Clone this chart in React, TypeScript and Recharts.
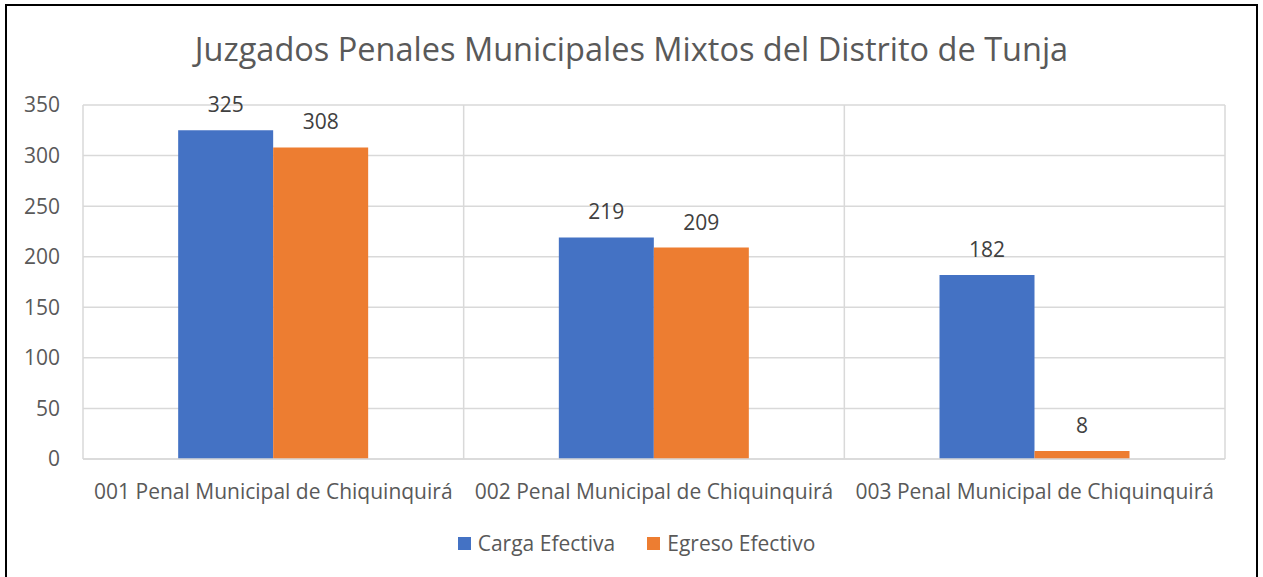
import React from "react";
import {
  BarChart,
  Bar,
  XAxis,
  YAxis,
  CartesianGrid,
  LabelList,
} from "recharts";

const categories = [
  "001 Penal Municipal de Chiquinquirá",
  "002 Penal Municipal de Chiquinquirá",
  "003 Penal Municipal de Chiquinquirá",
];
const cargaEfectiva = [325, 219, 182];
const egresoEfectivo = [308, 209, 8];
const yTicks = [0, 50, 100, 150, 200, 250, 300, 350];
const seriesNames = ["Carga Efectiva", "Egreso Efectivo"];
const seriesColors = ["#4472c4", "#ed7d31"];

const data = categories.map((name, i) => ({
  name,
  carga: cargaEfectiva[i],
  egreso: egresoEfectivo[i],
}));

const FONT = "'Open Sans', sans-serif";
const TEXT = "#595959";
const FS = 21;

export default function App() {
  return (
    <div style={{ position: "relative", width: 1263, height: 577, overflow: "hidden", background: "#fff" }}>
      <style>{`body{margin:0}`}</style>
      <div
        style={{
          position: "absolute",
          left: 5,
          top: 4,
          width: 1249,
          height: 620,
          border: "2px solid #000",
        }}
      />
      <div
        style={{
          position: "absolute",
          top: 26,
          left: 0,
          width: 1263,
          textAlign: "center",
          fontFamily: FONT,
          fontSize: 32.5,
          color: TEXT,
        }}
      >
        Juzgados Penales Municipales Mixtos del Distrito de Tunja
      </div>
      <div style={{ position: "absolute", left: 0, top: 0 }}>
        <BarChart
          width={1263}
          height={577}
          data={data}
          margin={{ top: 105, right: 38, bottom: 0, left: 0 }}
          barCategoryGap="25%"
          barGap={0}
        >
          <CartesianGrid
            stroke="#d9d9d9"
            strokeWidth={1.5}
            verticalCoordinatesGenerator={({ offset }) =>
              categories
                .map((_, i) => offset.left + (i * offset.width) / categories.length)
                .concat(offset.left + offset.width)
            }
          />
          <XAxis
            dataKey="name"
            height={118}
            axisLine={{ stroke: "#d9d9d9", strokeWidth: 1.5 }}
            tickLine={false}
            tickSize={0}
            tickMargin={25}
            tick={{ fill: TEXT, fontSize: FS, fontFamily: FONT }}
            interval={0}
          />
          <YAxis
            width={83}
            domain={[0, 350]}
            ticks={yTicks}
            axisLine={false}
            tickLine={false}
            tickSize={0}
            tickMargin={23}
            tick={{ fill: TEXT, fontSize: FS, fontFamily: FONT }}
          />
          <Bar dataKey="carga" name={seriesNames[0]} fill={seriesColors[0]} isAnimationActive={false}>
            <LabelList
              dataKey="carga"
              position="top"
              offset={18}
              fill="#404040"
              fontSize={FS}
              fontFamily={FONT}
            />
          </Bar>
          <Bar dataKey="egreso" name={seriesNames[1]} fill={seriesColors[1]} isAnimationActive={false}>
            <LabelList
              dataKey="egreso"
              position="top"
              offset={18}
              fill="#404040"
              fontSize={FS}
              fontFamily={FONT}
            />
          </Bar>
        </BarChart>
      </div>
      <div
        style={{
          position: "absolute",
          top: 529,
          left: 5,
          width: 1263,
          display: "flex",
          justifyContent: "center",
          gap: 32,
          fontFamily: FONT,
          fontSize: FS,
          color: TEXT,
          lineHeight: "28px",
        }}
      >
        {seriesNames.map((label, i) => (
          <div key={label} style={{ display: "flex", alignItems: "center" }}>
            <span
              style={{
                width: 13,
                height: 13,
                background: seriesColors[i],
                display: "inline-block",
                marginRight: 7,
              }}
            />
            <span>{label}</span>
          </div>
        ))}
      </div>
    </div>
  );
}
